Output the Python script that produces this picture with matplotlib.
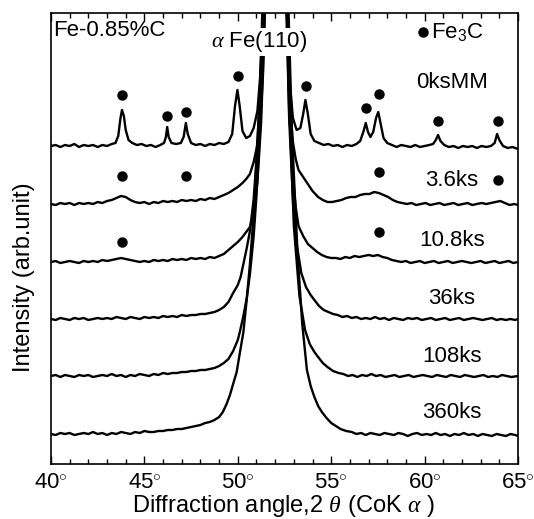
import numpy as np
import matplotlib
matplotlib.use("Agg")
import matplotlib.pyplot as plt
from matplotlib.ticker import MultipleLocator, FuncFormatter

plt.rcParams["font.family"] = ["Liberation Sans", "DejaVu Sans"]
plt.rcParams["mathtext.fontset"] = "custom"
plt.rcParams["mathtext.rm"] = "Liberation Sans"
plt.rcParams["mathtext.it"] = "Liberation Serif:italic"

# sample labels and vertical stacking offsets (arb. units)
samples = ["0ksMM", "3.6ks", "10.8ks", "36ks", "108ks", "360ks"]
offsets = [318, 260, 202, 145, 88, 30]

# (2theta [deg], intensity above baseline [arb.])
scan_0ks = [
    (40.00, 0), (40.25, 1), (40.50, -1), (40.75, 1), (41.00, 0), (41.25, 2), (41.50, -1), (41.75, 1),
    (42.00, 0), (42.25, 1), (42.50, -1), (42.75, 1), (43.00, 0), (43.25, 2), (43.45, 3), (43.60, 10),
    (43.72, 28), (43.80, 36), (43.90, 30), (44.00, 16), (44.15, 6), (44.35, 3), (44.60, 1), (44.85, 2),
    (45.10, 0), (45.35, 1), (45.60, -1), (45.85, 1), (46.05, 3), (46.15, 9), (46.22, 19), (46.30, 9),
    (46.45, 3), (46.70, 2), (46.95, 3), (47.10, 9), (47.22, 23), (47.32, 12), (47.50, 3), (47.75, 1),
    (48.00, 2), (48.25, 0), (48.50, 2), (48.75, 1), (49.00, 3), (49.25, 2), (49.50, 4), (49.70, 12),
    (49.85, 40), (49.98, 56), (50.10, 40), (50.25, 15), (50.45, 8), (50.65, 10), (50.85, 18), (51.05, 35),
    (51.20, 70), (51.35, 140), (51.60, 420), (52.00, 1500), (52.40, 420), (52.65, 140), (52.80, 60),
    (52.95, 28), (53.15, 16), (53.35, 18), (53.50, 32), (53.62, 46), (53.75, 32), (53.90, 12), (54.10, 5),
    (54.35, 3), (54.60, 1), (54.85, 2), (55.10, 0), (55.35, 1), (55.60, -1), (55.85, 1), (56.10, 0),
    (56.35, 2), (56.55, 5), (56.72, 14), (56.85, 23), (56.97, 14), (57.10, 9), (57.25, 14), (57.40, 28),
    (57.52, 34), (57.65, 22), (57.80, 8), (58.00, 3), (58.25, 1), (58.50, -1), (58.75, 1), (59.00, 0),
    (59.25, -1), (59.50, 1), (59.75, -1), (60.00, 0), (60.25, 1), (60.45, 2), (60.60, 6), (60.72, 11),
    (60.85, 5), (61.05, 1), (61.30, -1), (61.55, 0), (61.80, -2), (62.05, 0), (62.30, -1), (62.55, 0),
    (62.80, -2), (63.05, 0), (63.30, -1), (63.55, 0), (63.75, 3), (63.88, 12), (64.00, 6), (64.20, 0),
    (64.45, -2), (64.70, -1), (65.00, -3),
]
scan_3_6ks = [
    (40.00, 0), (40.25, -1), (40.50, 1), (40.75, 0), (41.00, 1), (41.25, -1), (41.50, 1), (41.75, 0),
    (42.00, 1), (42.25, 0), (42.50, 2), (42.75, 1), (43.00, 3), (43.25, 4), (43.50, 6), (43.75, 8),
    (44.00, 7), (44.25, 4), (44.50, 2), (44.75, 1), (45.00, 2), (45.25, 0), (45.50, 2), (45.75, 1),
    (46.00, 3), (46.25, 2), (46.50, 3), (46.75, 2), (47.00, 4), (47.25, 3), (47.50, 4), (47.75, 3),
    (48.00, 5), (48.25, 4), (48.50, 6), (48.75, 5), (49.00, 7), (49.25, 9), (49.50, 11), (49.75, 14),
    (50.00, 17), (50.25, 21), (50.45, 25), (50.65, 30), (50.85, 42), (51.00, 55), (51.20, 80),
    (51.35, 130), (51.50, 230), (51.75, 600), (52.00, 1500), (52.30, 600), (52.55, 250), (52.75, 110),
    (52.95, 62), (53.10, 45), (53.25, 34), (53.50, 27), (53.75, 20), (54.00, 13), (54.30, 7), (54.55, 4),
    (54.80, 2), (55.05, 2), (55.30, 3), (55.55, 4), (55.80, 6), (56.05, 7), (56.30, 7), (56.55, 9),
    (56.80, 10), (57.05, 10), (57.30, 12), (57.55, 11), (57.80, 9), (58.05, 7), (58.30, 4), (58.55, 2),
    (58.80, 1), (59.05, 0), (59.30, 1), (59.55, -1), (59.80, 0), (60.05, 1), (60.30, -1), (60.55, 0),
    (60.80, 1), (61.05, -1), (61.30, 0), (61.55, 1), (61.80, -1), (62.05, 0), (62.30, 1), (62.55, -1),
    (62.80, 0), (63.05, 1), (63.30, 0), (63.55, 1), (63.80, 2), (64.05, 3), (64.30, 1), (64.55, -1),
    (64.80, 0), (65.00, -1),
]
scan_10_8ks = [
    (40.00, 0), (40.25, 1), (40.50, -1), (40.75, 0), (41.00, 1), (41.25, 0), (41.50, -1), (41.75, 1),
    (42.00, 0), (42.25, 1), (42.50, 0), (42.75, 2), (43.00, 1), (43.25, 2), (43.50, 3), (43.75, 4),
    (44.00, 3), (44.25, 2), (44.50, 1), (44.75, 0), (45.00, 1), (45.25, 0), (45.50, 2), (45.75, 1),
    (46.00, 2), (46.25, 1), (46.50, 3), (46.75, 2), (47.00, 3), (47.25, 2), (47.50, 4), (47.75, 3),
    (48.00, 4), (48.25, 3), (48.50, 5), (48.75, 4), (49.00, 6), (49.25, 8), (49.50, 12), (49.75, 16),
    (50.00, 20), (50.25, 25), (50.45, 30), (50.65, 35), (50.85, 50), (51.05, 80), (51.25, 140),
    (51.45, 250), (51.75, 700), (52.00, 2000), (52.30, 700), (52.55, 300), (52.75, 150), (52.95, 85),
    (53.10, 55), (53.25, 36), (53.50, 26), (53.75, 18), (54.00, 14), (54.25, 10), (54.50, 7), (54.75, 5),
    (55.00, 4), (55.25, 4), (55.50, 3), (55.75, 5), (56.00, 4), (56.25, 6), (56.50, 5), (56.75, 6),
    (57.00, 7), (57.25, 6), (57.50, 7), (57.75, 5), (58.00, 4), (58.25, 2), (58.50, 1), (58.75, 0),
    (59.00, 1), (59.25, -1), (59.50, 0), (59.75, 1), (60.00, -1), (60.25, 0), (60.50, 1), (60.75, -1),
    (61.00, 0), (61.25, 1), (61.50, -1), (61.75, 0), (62.00, 1), (62.25, 0), (62.50, -1), (62.75, 0),
    (63.00, 1), (63.25, -1), (63.50, 0), (63.75, 1), (64.00, -1), (64.25, 0), (64.50, 1), (64.75, -1),
    (65.00, 0),
]
scan_36ks = [
    (40.00, 0), (40.25, -1), (40.50, 1), (40.75, 0), (41.00, -1), (41.25, 1), (41.50, 0), (41.75, 1),
    (42.00, -1), (42.25, 0), (42.50, 1), (42.75, 0), (43.00, 1), (43.25, 0), (43.50, 2), (43.75, 1),
    (44.00, 0), (44.25, 2), (44.50, 1), (44.75, 0), (45.00, 2), (45.25, 1), (45.50, 2), (45.75, 1),
    (46.00, 3), (46.25, 2), (46.50, 3), (46.75, 2), (47.00, 4), (47.25, 3), (47.50, 4), (47.75, 4),
    (48.00, 5), (48.25, 5), (48.50, 6), (48.75, 7), (49.00, 9), (49.25, 12), (49.50, 17), (49.75, 26),
    (50.00, 34), (50.15, 42), (50.30, 55), (50.48, 71), (50.65, 88), (50.85, 120), (51.00, 160),
    (51.20, 230), (51.40, 330), (51.70, 800), (52.00, 2500), (52.30, 800), (52.55, 350), (52.75, 200),
    (52.95, 120), (53.15, 75), (53.40, 46), (53.65, 32), (53.90, 24), (54.10, 19), (54.35, 13),
    (54.60, 9), (54.85, 7), (55.10, 5), (55.35, 4), (55.60, 2), (55.85, 3), (56.10, 1), (56.35, 2),
    (56.60, 0), (56.85, 1), (57.10, 0), (57.35, 2), (57.60, 0), (57.85, 1), (58.10, -1), (58.35, 1),
    (58.60, 0), (58.85, -1), (59.10, 1), (59.35, 0), (59.60, 1), (59.85, -1), (60.10, 0), (60.35, 1),
    (60.60, -1), (60.85, 0), (61.10, 1), (61.35, -1), (61.60, 0), (61.85, 1), (62.10, -1), (62.35, 0),
    (62.60, 1), (62.85, 0), (63.10, -1), (63.35, 0), (63.60, 1), (63.85, -1), (64.10, 0), (64.35, -1),
    (64.60, 0), (64.85, -1), (65.00, 0),
]
scan_108ks = [
    (40.00, 0), (40.25, 1), (40.50, -1), (40.75, 1), (41.00, 0), (41.25, -1), (41.50, 1), (41.75, 0),
    (42.00, 1), (42.25, -1), (42.50, 0), (42.75, 1), (43.00, 0), (43.25, 2), (43.50, 0), (43.75, 1),
    (44.00, -1), (44.25, 1), (44.50, 0), (44.75, 2), (45.00, 1), (45.25, 0), (45.50, 2), (45.75, 1),
    (46.00, 3), (46.25, 2), (46.50, 3), (46.75, 3), (47.00, 4), (47.25, 4), (47.50, 5), (47.75, 5),
    (48.00, 6), (48.25, 6), (48.50, 7), (48.75, 8), (49.00, 10), (49.25, 13), (49.50, 17), (49.75, 25),
    (50.00, 36), (50.12, 45), (50.30, 60), (50.48, 78), (50.65, 102), (50.85, 140), (51.00, 180),
    (51.20, 250), (51.40, 380), (51.70, 900), (52.00, 3000), (52.30, 900), (52.55, 420), (52.80, 250),
    (53.00, 150), (53.30, 80), (53.60, 46), (53.85, 32), (54.10, 24), (54.30, 19), (54.55, 13),
    (54.80, 9), (55.10, 5), (55.40, 3), (55.65, 2), (55.90, 0), (56.15, 1), (56.40, -1), (56.65, 1),
    (56.90, 0), (57.15, 2), (57.40, 0), (57.65, 1), (57.90, -1), (58.15, 0), (58.40, 1), (58.65, -1),
    (58.90, 0), (59.15, 1), (59.40, -1), (59.65, 0), (59.90, 1), (60.15, 0), (60.40, -1), (60.65, 1),
    (60.90, 0), (61.15, -1), (61.40, 1), (61.65, 0), (61.90, -1), (62.15, 1), (62.40, 0), (62.65, -1),
    (62.90, 0), (63.15, 1), (63.40, -1), (63.65, 0), (63.90, -1), (64.15, 1), (64.40, 0), (64.65, -1),
    (65.00, 0),
]
scan_360ks = [
    (40.00, 0), (40.25, -1), (40.50, 1), (40.75, 0), (41.00, 1), (41.25, -1), (41.50, 0), (41.75, 1),
    (42.00, 0), (42.25, 2), (42.50, 0), (42.75, 1), (43.00, -1), (43.25, 1), (43.50, 0), (43.75, 2),
    (44.00, 1), (44.25, 0), (44.50, 2), (44.75, 1), (45.00, 3), (45.25, 2), (45.50, 2), (45.75, 3),
    (46.00, 3), (46.25, 4), (46.50, 4), (46.75, 5), (47.00, 5), (47.25, 6), (47.50, 7), (47.75, 8),
    (48.00, 9), (48.25, 11), (48.50, 12), (48.75, 14), (49.00, 17), (49.20, 22), (49.40, 30),
    (49.58, 39), (49.75, 50), (49.94, 62), (50.10, 80), (50.30, 102), (50.48, 135), (50.65, 170),
    (50.85, 220), (51.00, 270), (51.20, 350), (51.40, 480), (51.70, 1000), (52.00, 3500), (52.30, 1000),
    (52.60, 500), (52.90, 300), (53.20, 180), (53.45, 110), (53.70, 64), (53.90, 48), (54.10, 37),
    (54.30, 28), (54.50, 22), (54.75, 16), (55.00, 11), (55.25, 8), (55.50, 5), (55.80, 3), (56.10, 2),
    (56.35, 0), (56.60, 1), (56.85, -1), (57.10, 1), (57.35, 0), (57.60, -1), (57.85, 1), (58.10, 0),
    (58.35, -1), (58.60, 1), (58.85, 0), (59.10, -2), (59.35, 0), (59.60, 1), (59.85, -1), (60.10, 0),
    (60.35, -1), (60.60, 1), (60.85, -1), (61.10, 0), (61.35, -2), (61.60, 0), (61.85, -1), (62.10, 1),
    (62.35, -1), (62.60, 0), (62.85, -2), (63.10, 0), (63.35, -1), (63.60, -2), (63.85, 0), (64.10, -1),
    (64.35, -2), (64.60, 0), (64.85, -1), (65.00, -2),
]
scans = [scan_0ks, scan_3_6ks, scan_10_8ks, scan_36ks, scan_108ks, scan_360ks]

# Fe3C peak markers (2theta, height in plot units)
fe3c_0ks = [(43.80, 369), (46.21, 348), (47.23, 352), (50.01, 388), (53.65, 378),
            (56.86, 356), (57.56, 370), (60.72, 343), (63.93, 343)]
fe3c_3_6ks = [(43.80, 288), (47.23, 288), (57.56, 292), (63.93, 284)]
fe3c_10_8ks = [(43.80, 222), (57.56, 232)]

label_y = [382, 284, 224, 166, 107, 51]

fig = plt.figure(figsize=(5.34, 5.19), dpi=100)
ax = fig.add_axes([51 / 534, 55 / 519, 467 / 534, 451 / 519])

for scan, off in zip(scans, offsets):
    a, h = np.array(scan, dtype=float).T
    ax.plot(a, h + off, color="black", lw=1.7)

for marks in (fe3c_0ks, fe3c_3_6ks, fe3c_10_8ks):
    a, y = np.array(marks).T
    ax.plot(a, y, "o", color="black", ms=6.5)

fs = 16
for name, y in zip(samples, label_y):
    ax.text(61.47, y, name, ha="center", va="center", fontsize=fs)

ax.text(40.12, 433, "Fe-0.85%C", ha="left", va="center", fontsize=fs)
ax.text(51.15, 422, r"$\alpha$ Fe(110)", ha="center", va="center", fontsize=fs,
        bbox=dict(facecolor="white", edgecolor="none", pad=1.0), zorder=5)
ax.plot([59.91], [432], "o", color="black", ms=6.5)
ax.text(60.35, 432, r"Fe$_{3}$C", ha="left", va="center", fontsize=fs)

ax.set_xlim(40, 65)
ax.set_ylim(0, 451)
ax.set_yticks([])
ax.xaxis.set_major_locator(MultipleLocator(5))
ax.xaxis.set_minor_locator(MultipleLocator(1))
ax.xaxis.set_major_formatter(FuncFormatter(lambda v, p: f"{v:.0f}$^{{\\circ}}$"))
ax.tick_params(axis="x", which="both", direction="in", top=True, bottom=True, width=1)
ax.tick_params(axis="x", which="major", length=6, labelsize=fs, pad=6)
ax.tick_params(axis="x", which="minor", length=3.5)
for s in ax.spines.values():
    s.set_linewidth(1.2)

fig.text(284 / 534, 1 - 506 / 519, r"Diffraction angle,2 $\theta$ (CoK $\alpha$ )",
         ha="center", va="center", fontsize=17)
fig.text(24 / 534, 1 - 277 / 519, "Intensity (arb.unit)", rotation=90,
         ha="center", va="center", fontsize=17)

fig.savefig("out.png", dpi=100)
